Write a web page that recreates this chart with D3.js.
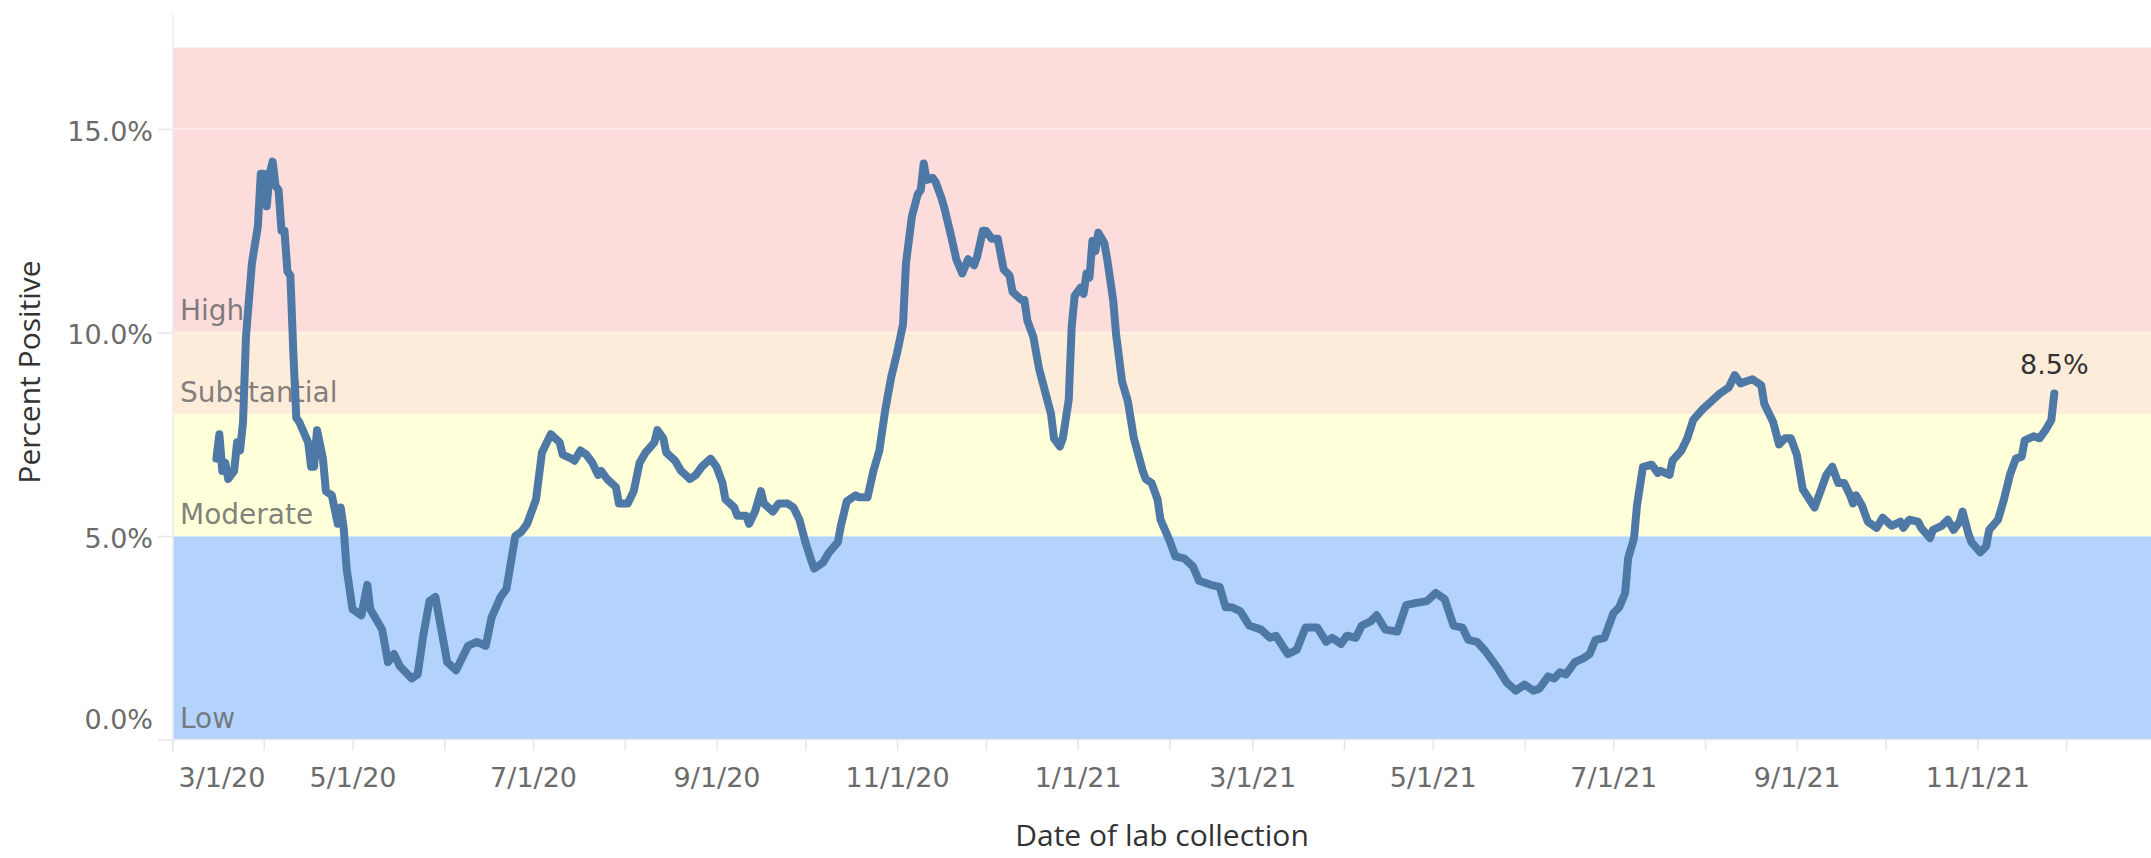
<!DOCTYPE html>
<html>
<head>
<meta charset="utf-8">
<script src="https://cdn.jsdelivr.net/npm/d3@7"></script>
<style>
  body { margin: 0; background: #fff; }
  svg { display: block; }
</style>
</head>
<body>
<div id="wrapper"></div>
<script>
// daily percent positive
const dates = [
  "2020-03-16","2020-03-17","2020-03-18","2020-03-19","2020-03-20","2020-03-22","2020-03-23","2020-03-24","2020-03-25","2020-03-26",
  "2020-03-28","2020-03-30","2020-03-31","2020-04-01","2020-04-02","2020-04-03","2020-04-04","2020-04-05","2020-04-06","2020-04-07",
  "2020-04-08","2020-04-09","2020-04-10","2020-04-11","2020-04-12","2020-04-13","2020-04-16","2020-04-17","2020-04-18","2020-04-19",
  "2020-04-21","2020-04-22","2020-04-24","2020-04-26","2020-04-27","2020-04-28","2020-04-29","2020-05-01","2020-05-04","2020-05-06",
  "2020-05-07","2020-05-11","2020-05-13","2020-05-15","2020-05-17","2020-05-21","2020-05-23","2020-05-25","2020-05-27","2020-05-29",
  "2020-05-31","2020-06-02","2020-06-05","2020-06-09","2020-06-12","2020-06-15","2020-06-17","2020-06-20","2020-06-22","2020-06-25",
  "2020-06-27","2020-06-29","2020-07-02","2020-07-04","2020-07-07","2020-07-10","2020-07-11","2020-07-14","2020-07-15","2020-07-17",
  "2020-07-19","2020-07-21","2020-07-23","2020-07-24","2020-07-26","2020-07-29","2020-07-30","2020-08-02","2020-08-04","2020-08-06",
  "2020-08-08","2020-08-11","2020-08-12","2020-08-14","2020-08-15","2020-08-18","2020-08-20","2020-08-23","2020-08-25","2020-08-27",
  "2020-08-30","2020-09-01","2020-09-03","2020-09-04","2020-09-07","2020-09-08","2020-09-11","2020-09-12","2020-09-14","2020-09-16",
  "2020-09-17","2020-09-20","2020-09-22","2020-09-25","2020-09-27","2020-09-29","2020-10-01","2020-10-03","2020-10-04","2020-10-07",
  "2020-10-09","2020-10-12","2020-10-13","2020-10-15","2020-10-18","2020-10-19","2020-10-22","2020-10-24","2020-10-26","2020-10-28",
  "2020-10-30","2020-11-01","2020-11-03","2020-11-04","2020-11-06","2020-11-08","2020-11-09","2020-11-10","2020-11-11","2020-11-13",
  "2020-11-14","2020-11-16","2020-11-17","2020-11-19","2020-11-21","2020-11-23","2020-11-25","2020-11-27","2020-11-28","2020-11-30",
  "2020-12-01","2020-12-03","2020-12-05","2020-12-07","2020-12-09","2020-12-10","2020-12-13","2020-12-14","2020-12-15","2020-12-17",
  "2020-12-19","2020-12-23","2020-12-24","2020-12-26","2020-12-27","2020-12-29","2020-12-30","2020-12-31","2021-01-02","2021-01-03",
  "2021-01-04","2021-01-05","2021-01-06","2021-01-07","2021-01-08","2021-01-10","2021-01-11","2021-01-13","2021-01-14","2021-01-16",
  "2021-01-18","2021-01-20","2021-01-23","2021-01-24","2021-01-26","2021-01-28","2021-01-29","2021-02-01","2021-02-03","2021-02-06",
  "2021-02-09","2021-02-11","2021-02-15","2021-02-18","2021-02-20","2021-02-22","2021-02-25","2021-02-28","2021-03-04","2021-03-07",
  "2021-03-09","2021-03-13","2021-03-16","2021-03-19","2021-03-23","2021-03-26","2021-03-28","2021-03-31","2021-04-02","2021-04-05",
  "2021-04-07","2021-04-10","2021-04-12","2021-04-15","2021-04-19","2021-04-22","2021-04-25","2021-04-29","2021-05-02","2021-05-05",
  "2021-05-08","2021-05-11","2021-05-13","2021-05-16","2021-05-19","2021-05-23","2021-05-26","2021-05-29","2021-06-01","2021-06-04",
  "2021-06-06","2021-06-09","2021-06-11","2021-06-13","2021-06-15","2021-06-18","2021-06-21","2021-06-23","2021-06-25","2021-06-28",
  "2021-07-01","2021-07-03","2021-07-05","2021-07-06","2021-07-08","2021-07-09","2021-07-11","2021-07-14","2021-07-16","2021-07-17",
  "2021-07-20","2021-07-21","2021-07-24","2021-07-26","2021-07-28","2021-07-31","2021-08-03","2021-08-06","2021-08-09","2021-08-11",
  "2021-08-13","2021-08-15","2021-08-17","2021-08-20","2021-08-21","2021-08-24","2021-08-26","2021-08-28","2021-08-30","2021-09-01",
  "2021-09-03","2021-09-07","2021-09-11","2021-09-13","2021-09-15","2021-09-17","2021-09-19","2021-09-20","2021-09-21","2021-09-23",
  "2021-09-25","2021-09-28","2021-09-30","2021-10-03","2021-10-06","2021-10-07","2021-10-09","2021-10-12","2021-10-13","2021-10-16",
  "2021-10-17","2021-10-20","2021-10-22","2021-10-24","2021-10-26","2021-10-27","2021-10-29","2021-10-30","2021-11-02","2021-11-04",
  "2021-11-05","2021-11-08","2021-11-10","2021-11-12","2021-11-14","2021-11-16","2021-11-17","2021-11-20","2021-11-22","2021-11-24",
  "2021-11-26","2021-11-27"
];
const values = [
  6.9, 7.5, 6.6, 6.8, 6.4, 6.6, 7.3, 7.1, 7.8, 9.9,
  11.7, 12.6, 13.9, 13.9, 13.1, 13.9, 14.2, 13.6, 13.5, 12.5,
  12.5, 11.5, 11.4, 9.5, 7.9, 7.8, 7.3, 6.7, 6.7, 7.6,
  6.9, 6.1, 6.0, 5.3, 5.7, 5.2, 4.2, 3.2, 3.05, 3.8,
  3.2, 2.7, 1.9, 2.1, 1.8, 1.5, 1.6, 2.6, 3.4, 3.5,
  2.7, 1.9, 1.7, 2.3, 2.4, 2.3, 3.0, 3.5, 3.7, 5.0,
  5.1, 5.3, 5.9, 7.05, 7.5, 7.3, 7.0, 6.9, 6.85, 7.1,
  7.0, 6.8, 6.5, 6.6, 6.4, 6.2, 5.8, 5.8, 6.1, 6.8,
  7.05, 7.3, 7.6, 7.4, 7.05, 6.85, 6.6, 6.4, 6.5, 6.7,
  6.9, 6.7, 6.3, 5.9, 5.7, 5.5, 5.5, 5.3, 5.6, 6.1,
  5.8, 5.6, 5.8, 5.8, 5.7, 5.4, 4.85, 4.4, 4.2, 4.35,
  4.6, 4.85, 5.25, 5.85, 6.0, 5.95, 5.95, 6.6, 7.1, 8.1,
  8.9, 9.5, 10.2, 11.7, 12.85, 13.4, 13.5, 14.15, 13.75, 13.8,
  13.7, 13.3, 13.05, 12.45, 11.8, 11.45, 11.8, 11.65, 11.85, 12.5,
  12.5, 12.3, 12.3, 11.55, 11.4, 11.0, 10.8, 10.8, 10.3, 9.9,
  9.1, 8.0, 7.4, 7.2, 7.4, 8.35, 10.15, 10.9, 11.1, 10.95,
  11.45, 11.35, 12.25, 12.0, 12.45, 12.2, 11.8, 10.8, 9.95, 8.8,
  8.3, 7.4, 6.6, 6.4, 6.3, 5.9, 5.4, 4.9, 4.5, 4.45,
  4.25, 3.9, 3.8, 3.75, 3.25, 3.25, 3.15, 2.8, 2.7, 2.5,
  2.55, 2.1, 2.2, 2.75, 2.75, 2.4, 2.5, 2.35, 2.55, 2.5,
  2.8, 2.9, 3.05, 2.7, 2.65, 3.3, 3.35, 3.4, 3.6, 3.45,
  2.8, 2.75, 2.45, 2.4, 2.15, 1.75, 1.4, 1.2, 1.35, 1.2,
  1.25, 1.55, 1.5, 1.65, 1.6, 1.9, 2.0, 2.1, 2.45, 2.5,
  3.1, 3.25, 3.6, 4.45, 4.95, 5.75, 6.7, 6.75, 6.55, 6.6,
  6.5, 6.85, 7.1, 7.4, 7.85, 8.1, 8.3, 8.5, 8.65, 8.95,
  8.75, 8.8, 8.85, 8.7, 8.25, 7.8, 7.25, 7.4, 7.4, 7.0,
  6.15, 5.7, 6.5, 6.7, 6.3, 6.3, 6.0, 5.8, 6.0, 5.75,
  5.35, 5.2, 5.45, 5.25, 5.35, 5.2, 5.4, 5.35, 5.2, 4.95,
  5.15, 5.25, 5.4, 5.15, 5.35, 5.6, 5.05, 4.85, 4.6, 4.75,
  5.15, 5.4, 5.9, 6.5, 6.9, 6.95, 7.35, 7.45, 7.4, 7.6,
  7.85, 8.5
];

// risk bands
const bandNames = ["Low", "Moderate", "Substantial", "High"];
const bandFrom = [0, 5, 8, 10];
const bandTo = [5, 8, 10, 17];
const bandColors = ["#b3d3fd", "#ffffd9", "#feecdb", "#fddcdc"];

const yTicks = [0, 5, 10, 15];
const xStart = "2020-03-01";
const xEnd = "2021-12-29";

const parseDate = d3.timeParse("%Y-%m-%d");
const data = dates.map((d, i) => ({ date: parseDate(d), value: values[i] }));

const width = 2151, height = 858;
const plotLeft = 173, plotRight = 2151;

const svg = d3.select("#wrapper").append("svg")
  .attr("width", width)
  .attr("height", height);

const x = d3.scaleTime()
  .domain([parseDate(xStart), parseDate(xEnd)])
  .range([172, 2149]);

const y = d3.scaleLinear()
  .domain([0, 17.8])
  .range([739.5, 15]);

// bands
svg.append("g").selectAll("rect")
  .data(bandNames)
  .join("rect")
  .attr("x", plotLeft)
  .attr("width", plotRight - plotLeft)
  .attr("y", (d, i) => y(bandTo[i]))
  .attr("height", (d, i) => y(bandFrom[i]) - y(bandTo[i]))
  .attr("fill", (d, i) => bandColors[i]);

// light gridlines on top of the bands
svg.append("g").selectAll("line")
  .data(yTicks.filter(d => d > 0))
  .join("line")
  .attr("x1", plotLeft).attr("x2", plotRight)
  .attr("y1", d => y(d)).attr("y2", d => y(d))
  .attr("stroke", "#ffffff")
  .attr("stroke-opacity", 0.55)
  .attr("stroke-width", 1.5);

// vertical axis rule
svg.append("line")
  .attr("x1", plotLeft).attr("x2", plotLeft)
  .attr("y1", 14).attr("y2", 752)
  .attr("stroke", "#ebebeb")
  .attr("stroke-width", 1.5);

// band labels
svg.append("g").selectAll("text")
  .data(bandNames)
  .join("text")
  .attr("x", 180)
  .attr("y", (d, i) => y(bandFrom[i]) - 12)
  .attr("font-family", "DejaVu Sans, Verdana, sans-serif")
  .attr("font-size", 28)
  .attr("fill", "#6a6a6a")
  .attr("fill-opacity", 0.85)
  .text(d => d);

// y axis
const yAxis = svg.append("g")
  .attr("transform", `translate(${plotLeft},0)`)
  .call(d3.axisLeft(y)
    .tickValues(yTicks)
    .tickFormat(d => d.toFixed(1) + "%")
    .tickSize(15)
    .tickPadding(5));
yAxis.select(".domain").remove();
yAxis.selectAll(".tick line").attr("stroke", "#e6e6e6").attr("stroke-width", 1.5);
yAxis.selectAll(".tick text")
  .attr("font-family", "DejaVu Sans, Verdana, sans-serif")
  .attr("font-size", 27)
  .attr("fill", "#6b6b6b")
  .attr("dy", "0.42em");
// bottom label sits inside the plot
yAxis.selectAll(".tick text").filter(d => d === 0).attr("dy", "-0.42em");

// baseline
svg.append("line")
  .attr("x1", plotLeft).attr("x2", plotRight)
  .attr("y1", y(0)).attr("y2", y(0))
  .attr("stroke", "#e8e8e8")
  .attr("stroke-width", 1.5);

// x axis
const fmt = d3.timeFormat("%-m/%-d/%y");
const xAxis = svg.append("g")
  .attr("transform", `translate(0,${y(0)})`)
  .call(d3.axisBottom(x)
    .ticks(d3.timeMonth.every(1))
    .tickSize(11)
    .tickPadding(17)
    .tickFormat(d => d.getMonth() % 2 === 0 ? fmt(d) : ""));
xAxis.select(".domain").remove();
xAxis.selectAll(".tick line").attr("stroke", "#e6e6e6").attr("stroke-width", 1.5);
xAxis.selectAll(".tick text")
  .attr("font-family", "DejaVu Sans, Verdana, sans-serif")
  .attr("font-size", 27)
  .attr("fill", "#6b6b6b");
// first label is pushed inside the plot
xAxis.selectAll(".tick text").filter((d, i) => i === 0)
  .attr("text-anchor", "start")
  .attr("x", 6);

// the series
const line = d3.line()
  .x(d => x(d.date))
  .y(d => y(d.value));

svg.append("path")
  .datum(data)
  .attr("d", line)
  .attr("fill", "none")
  .attr("stroke", "#4e79a7")
  .attr("stroke-width", 8)
  .attr("stroke-linejoin", "round")
  .attr("stroke-linecap", "round");

// last value label
const last = data[data.length - 1];
svg.append("text")
  .attr("x", x(last.date))
  .attr("y", y(last.value) - 20)
  .attr("text-anchor", "middle")
  .attr("font-family", "DejaVu Sans, Verdana, sans-serif")
  .attr("font-size", 27)
  .attr("fill", "#333")
  .text(last.value.toFixed(1) + "%");

// axis titles
svg.append("text")
  .attr("transform", "translate(40,372) rotate(-90)")
  .attr("text-anchor", "middle")
  .attr("font-family", "Open Sans, sans-serif")
  .attr("font-size", 30)
  .attr("fill", "#333")
  .text("Percent Positive");

svg.append("text")
  .attr("x", (plotLeft + plotRight) / 2)
  .attr("y", 846)
  .attr("text-anchor", "middle")
  .attr("font-family", "Open Sans, sans-serif")
  .attr("font-size", 30)
  .attr("fill", "#333")
  .text("Date of lab collection");
</script>
</body>
</html>
